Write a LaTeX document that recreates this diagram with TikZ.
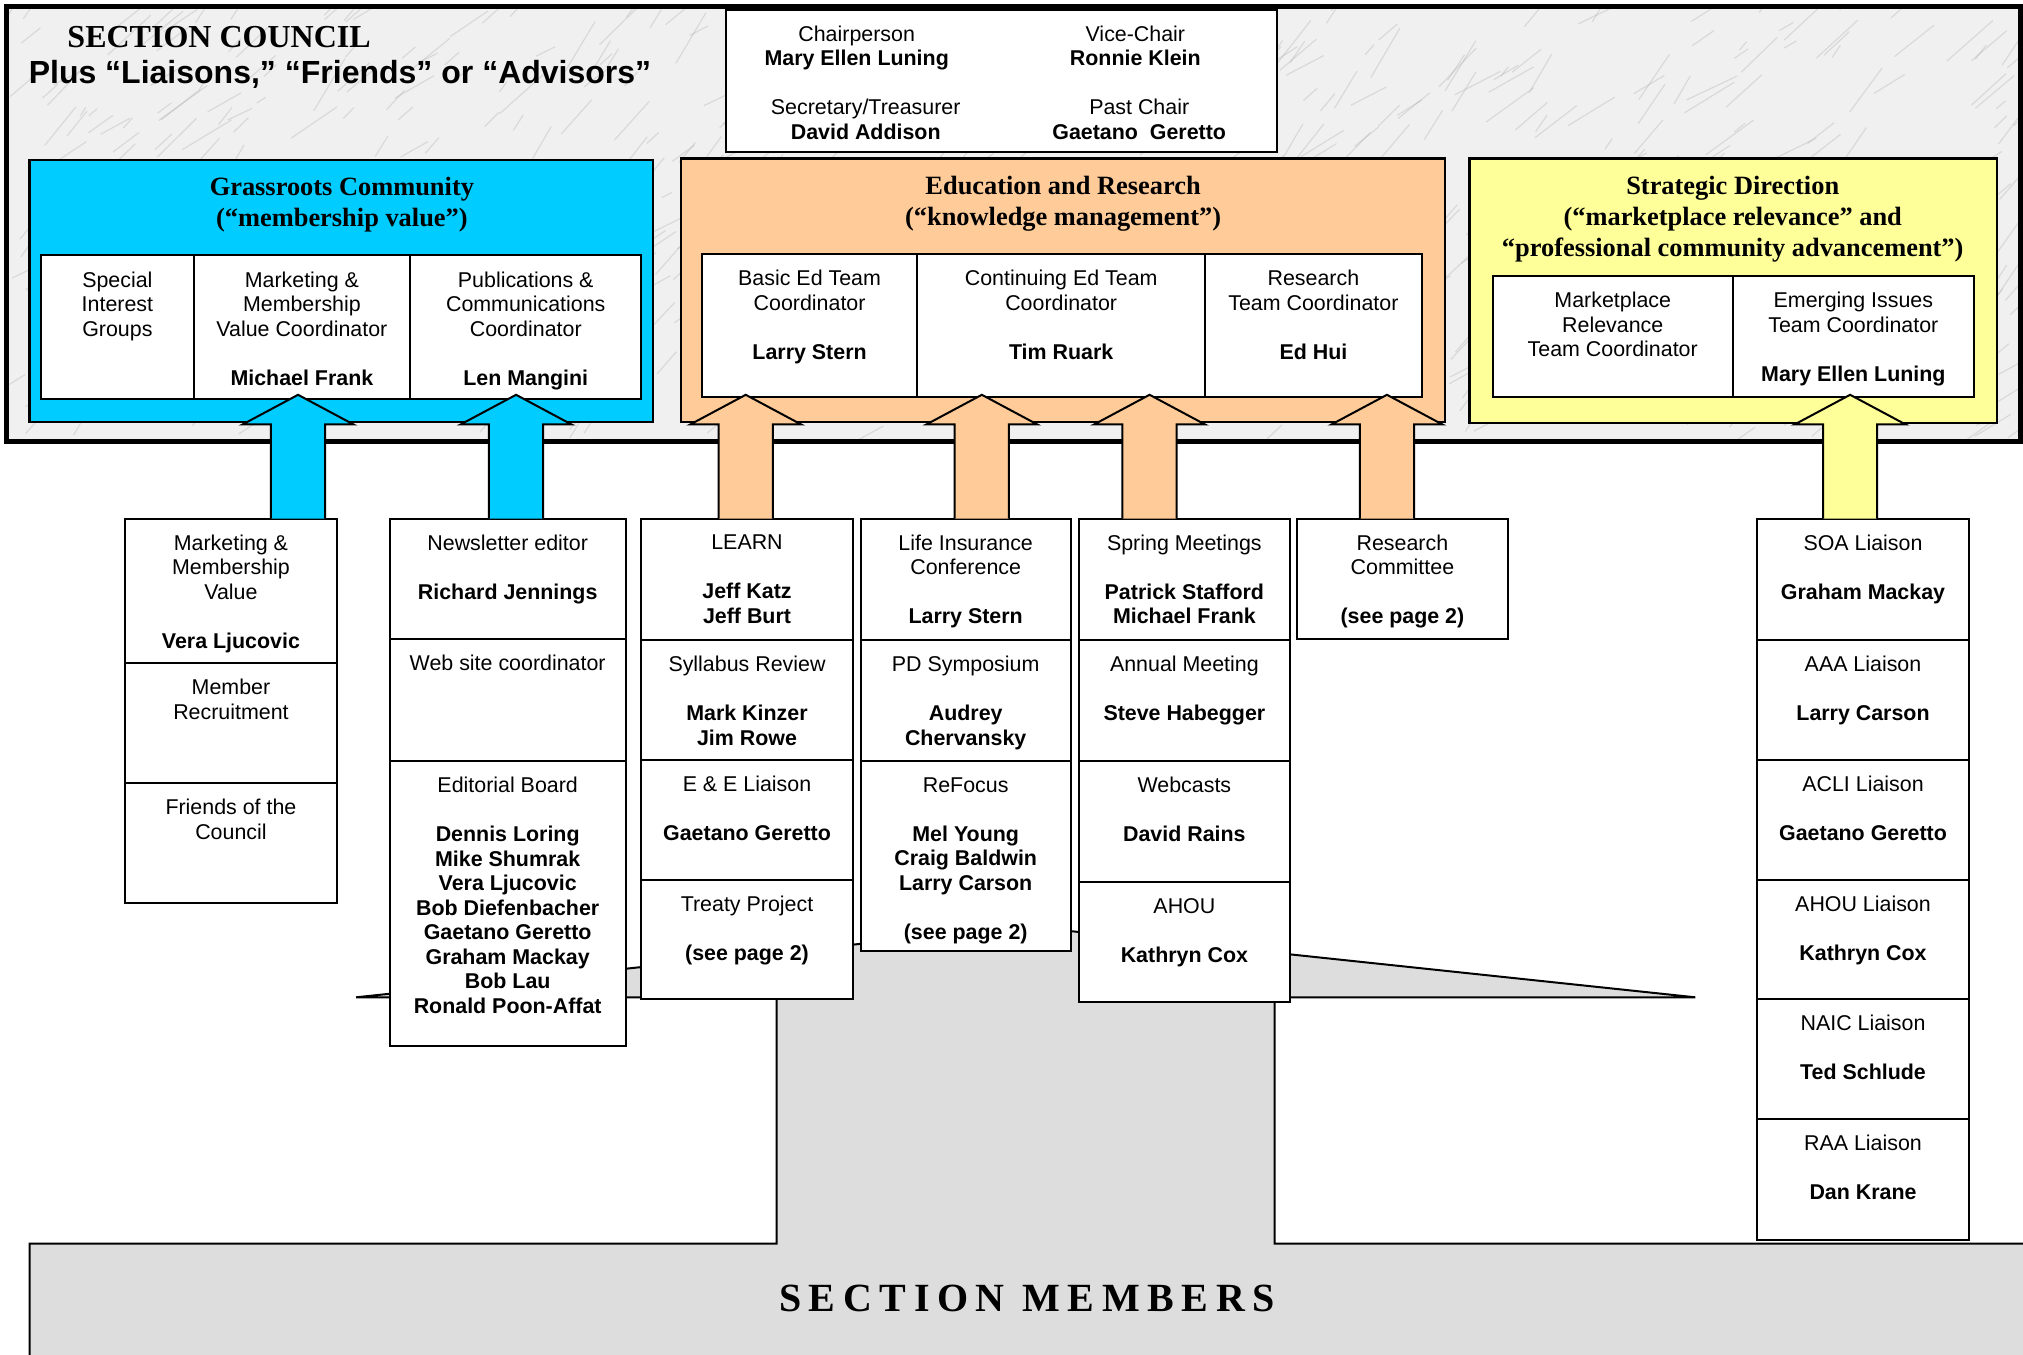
\documentclass[tikz,border=0pt]{standalone}
\usepackage{fontspec}
\setmainfont{Liberation Sans}
\newfontfamily\timesfont{Liberation Serif}
\newfontfamily\spacedfont[LetterSpace=19]{Liberation Serif}
\usetikzlibrary{fit,calc}

\newcommand{\skipline}{\\[12.25pt]}
\newcommand{\orgcell}[6]{%
	\node[cell,fit={(#2,#3) (#4,#5)}] (#1) {};
	\node[celltext] (#1-text) at ($(#1.north)+(0,13)$) {#6};}

\begin{document}
\begin{tikzpicture}
	[x=0.645pt,y=-0.645pt,line join=miter,
	%Styles
	group box/.style={draw,line width=1.2pt,inner sep=0pt},
	cell/.style={draw,fill=white,line width=1pt,inner sep=0pt},
	celltext/.style={anchor=north,align=center,inner sep=0pt,font=\fontsize{10.7}{12.25}\selectfont},
	group title/.style={anchor=north,align=center,inner sep=0pt,font=\timesfont\bfseries\fontsize{13.2}{15.5}\selectfont},
	up arrow/.style={draw,line width=1pt},
	members shape/.style={draw,line width=1pt,fill=memberfill}
	]
	
	%Colors
	\colorlet{marble}{gray!12}
	\definecolor{grassroots}{HTML}{00CCFF}
	\definecolor{education}{HTML}{FFCC99}
	\definecolor{strategic}{HTML}{FFFF99}
	\definecolor{memberfill}{HTML}{DDDDDD}
	
	%The graphic
	\useasboundingbox (0,0) rectangle (1568,1050);
	\clip (0,0) rectangle (1568,1050);
	
	%council frame, marble
	\fill[marble] (5,5) rectangle (1566,342);
	\begin{scope}
		\clip (5,5) rectangle (1566,342);
		\pgfmathsetseed{11}
		\foreach \i in {1,...,700}{
			\pgfmathsetmacro\mx{rnd*1570}
			\pgfmathsetmacro\my{rnd*345}
			\pgfmathsetmacro\ml{8+rnd*40}
			\pgfmathsetmacro\ma{-25-rnd*35}
			\draw[gray!70,opacity=0.3,line width=0.6pt] (\mx,\my) -- ++(\ma:\ml);
		}
	\end{scope}
	\draw[line width=2.5pt] (5,5) rectangle (1566,342);
	
	\node[anchor=base west,inner sep=0pt,font=\timesfont\bfseries\fontsize{16}{18}\selectfont] (council) at (52,36.5) {SECTION COUNCIL};
	\node[anchor=base west,inner sep=0pt,font=\bfseries\fontsize{16}{18}\selectfont] (plus) at (22,65) {Plus “Liaisons,” “Friends” or “Advisors”};
	
	%officers
	\node[cell,fit={(563,8) (990,118)}] (officers) {};
	\node[celltext] (chair) at (664,19.5) {Chairperson\\\textbf{Mary Ellen Luning}};
	\node[celltext] (vice) at (880,19.5) {Vice-Chair\\\textbf{Ronnie Klein}};
	\node[celltext] (secretary) at (671,76.5) {Secretary/Treasurer\\\textbf{David Addison}};
	\node[celltext] (pastchair) at (883,76.5) {Past Chair\\\textbf{Gaetano\ \ Geretto}};
	
	%three groups
	\node[group box,fill=grassroots,fit={(23,124) (506,327)}] (grass) {};
	\node[group title] (grass-title) at (265,137) {Grassroots Community\\(“membership value”)};
	\node[group box,fill=education,fit={(528,123) (1120,327)}] (edu) {};
	\node[group title] (edu-title) at (824,136) {Education and Research\\(“knowledge management”)};
	\node[group box,fill=strategic,fit={(1139,123) (1548,328)}] (strat) {};
	\node[group title] (strat-title) at (1343,136) {Strategic Direction\\(“marketplace relevance” and\\“professional community advancement”)};
	
	\orgcell{sig}{32}{198}{150}{309}{Special\\Interest\\Groups}
	\orgcell{mmv}{150}{198}{318}{309}{Marketing \&\\Membership\\Value Coordinator\skipline\textbf{Michael Frank}}
	\orgcell{pubs}{318}{198}{497}{309}{Publications \&\\Communications\\Coordinator\skipline\textbf{Len Mangini}}
	
	\orgcell{basic}{544}{197}{711}{308}{Basic Ed Team\\Coordinator\skipline\textbf{Larry Stern}}
	\orgcell{contin}{711}{197}{934}{308}{Continuing Ed Team\\Coordinator\skipline\textbf{Tim Ruark}}
	\orgcell{resteam}{934}{197}{1102}{308}{Research\\Team Coordinator\skipline\textbf{Ed Hui}}
	
	\orgcell{mktrel}{1157}{214}{1343}{308}{Marketplace\\Relevance\\Team Coordinator}
	\orgcell{emerg}{1343}{214}{1530}{308}{Emerging Issues\\Team Coordinator\skipline\textbf{Mary Ellen Luning}}
	
	%section members
	\filldraw[members shape] (23,1060) -- (23,964) -- (602,964) -- (602,773) -- (276,773) -- (795,718)
		-- (1314,773) -- (988,773) -- (988,964) -- (1580,964) -- (1580,1060) -- cycle;
	\node[anchor=base,inner sep=0pt,font=\spacedfont\bfseries\fontsize{20}{22}\selectfont] (members) at (796,1016.5) {SECTION MEMBERS};
	
	%lower columns
	\orgcell{mktval}{97}{402}{261}{514}{Marketing \&\\Membership\\Value\skipline\textbf{Vera Ljucovic}}
	\orgcell{recruit}{97}{514}{261}{607}{Member\\Recruitment}
	\orgcell{friends}{97}{607}{261}{700}{Friends of the\\Council}
	
	\orgcell{newsletter}{302}{402}{485}{495}{Newsletter editor\skipline\textbf{Richard Jennings}}
	\orgcell{website}{302}{495}{485}{590}{Web site coordinator}
	\orgcell{editorial}{302}{590}{485}{811}{Editorial Board\skipline\textbf{Dennis Loring}\\\textbf{Mike Shumrak}\\\textbf{Vera Ljucovic}\\\textbf{Bob Diefenbacher}\\\textbf{Gaetano Geretto}\\\textbf{Graham Mackay}\\\textbf{Bob Lau}\\\textbf{Ronald Poon-Affat}}
	
	\orgcell{learn}{497}{402}{661}{496}{LEARN\skipline\textbf{Jeff Katz}\\\textbf{Jeff Burt}}
	\orgcell{syllabus}{497}{496}{661}{589}{Syllabus Review\skipline\textbf{Mark Kinzer}\\\textbf{Jim Rowe}}
	\orgcell{eeliaison}{497}{589}{661}{682}{E \& E Liaison\skipline\textbf{Gaetano Geretto}}
	\orgcell{treaty}{497}{682}{661}{774}{Treaty Project\skipline\textbf{(see page 2)}}
	
	\orgcell{lifeconf}{667}{402}{830}{496}{Life Insurance\\Conference\skipline\textbf{Larry Stern}}
	\orgcell{pdsymp}{667}{496}{830}{590}{PD Symposium\skipline\textbf{Audrey}\\\textbf{Chervansky}}
	\orgcell{refocus}{667}{590}{830}{737}{ReFocus\skipline\textbf{Mel Young}\\\textbf{Craig Baldwin}\\\textbf{Larry Carson}\skipline\textbf{(see page 2)}}
	
	\orgcell{spring}{836}{402}{1000}{496}{Spring Meetings\skipline\textbf{Patrick Stafford}\\\textbf{Michael Frank}}
	\orgcell{annual}{836}{496}{1000}{590}{Annual Meeting\skipline\textbf{Steve Habegger}}
	\orgcell{webcasts}{836}{590}{1000}{684}{Webcasts\skipline\textbf{David Rains}}
	\orgcell{ahou}{836}{684}{1000}{777}{AHOU\skipline\textbf{Kathryn Cox}}
	
	\orgcell{rescomm}{1005}{402}{1169}{495}{Research\\Committee\skipline\textbf{(see page 2)}}
	
	\foreach \nm/\ya/\yb/\org/\who in {soa/402/496/SOA/Graham Mackay,aaa/496/589/AAA/Larry Carson,
		acli/589/682/ACLI/Gaetano Geretto,ahouliaison/682/774/AHOU/Kathryn Cox,
		naic/774/867/NAIC/Ted Schlude,raa/867/961/RAA/Dan Krane}
		{\orgcell{\nm}{1362}{\ya}{1526}{\yb}{\org\ Liaison\skipline\textbf{\who}}}
	
	%block arrows up to the groups
	\foreach \ax/\col in {231/grassroots,400/grassroots,578/education,761/education,891/education,1075/education,1434/strategic}
		\filldraw[up arrow,fill=\col] (\ax-21,402) -- (\ax-21,329) -- (\ax-43,329) -- (\ax,306)
			-- (\ax+43,329) -- (\ax+21,329) -- (\ax+21,402);
\end{tikzpicture}
\end{document}
